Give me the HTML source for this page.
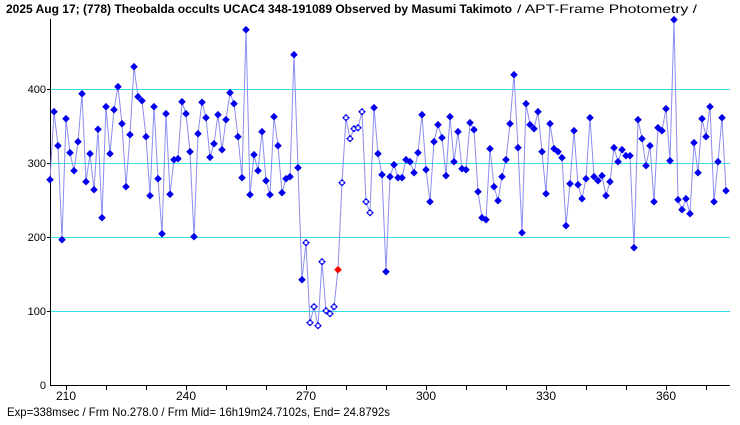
<!DOCTYPE html>
<html><head><meta charset="utf-8"><style>
html,body{margin:0;padding:0;background:#fff;width:740px;height:425px;overflow:hidden}
svg{display:block}
text{font-family:"Liberation Sans","Noto Sans CJK JP",sans-serif}
</style></head><body>
<svg id="s" width="740" height="425" xmlns="http://www.w3.org/2000/svg">
<rect width="740" height="425" fill="#fff"/>
<g stroke="#33e0e8" stroke-width="1">
<line x1="51" y1="89.5" x2="730" y2="89.5"/>
<line x1="51" y1="163.5" x2="730" y2="163.5"/>
<line x1="51" y1="237.5" x2="730" y2="237.5"/>
<line x1="51" y1="311.5" x2="730" y2="311.5"/>
</g>
<g stroke="#000" stroke-width="1">
<line x1="50.5" y1="19" x2="50.5" y2="385"/>
<line x1="50" y1="385.5" x2="730" y2="385.5"/>
<line x1="47" y1="89.5" x2="50" y2="89.5"/>
<line x1="47" y1="163.5" x2="50" y2="163.5"/>
<line x1="47" y1="237.5" x2="50" y2="237.5"/>
<line x1="47" y1="311.5" x2="50" y2="311.5"/>
<g id="ticks"></g>
</g>
<g font-size="11" fill="#000" text-anchor="end">
<text x="46" y="93">400</text><text x="46" y="167">300</text><text x="46" y="241">200</text><text x="46" y="315">100</text><text x="46" y="389">0</text>
</g>
<g font-size="12" fill="#000" text-anchor="middle">
<text x="66" y="400">210</text><text x="186" y="400">240</text><text x="306" y="400">270</text><text x="426" y="400">300</text><text x="546" y="400">330</text><text x="666" y="400">360</text>
</g>
<text x="6" y="13" font-size="12" font-weight="bold" fill="#000" textLength="506" lengthAdjust="spacingAndGlyphs">2025 Aug 17; (778) Theobalda occults UCAC4 348-191089 Observed by Masumi Takimoto</text>
<text x="517" y="13" font-size="12" fill="#000" textLength="180" lengthAdjust="spacingAndGlyphs">/ APT-Frame Photometry /</text>
<text x="7" y="416" font-size="12" fill="#000" textLength="383" lengthAdjust="spacingAndGlyphs">Exp=338msec / Frm No.278.0 / Frm Mid= 16h19m24.7102s,  End= 24.8792s</text>
<polyline id="ln" fill="none" stroke="#8c8cf0" stroke-width="1"/>
<g id="mk"></g>
</svg>
<script>
var ys=[179.7,111.7,145.7,239.7,118.7,152.7,170.7,141.7,93.7,181.7,153.7,189.7,129.3,217.7,106.7,153.7,109.7,86.7,123.7,186.7,134.7,66.7,96.7,100.7,136.7,195.7,106.7,178.7,233.7,113.7,194.3,159.7,158.7,101.7,113.7,151.7,236.7,133.7,102.3,117.7,157.3,143.7,114.7,
149.7,119.7,92.7,103.7,136.7,177.7,29.7,194.7,154.7,170.7,131.7,180.7,194.7,116.7,145.7,192.7,178.7,176.7,54.7,167.7,279.7,242.7,322.7,306.7,325.7,261.7,310.7,313.7,306.7,269.7,182.7,117.7,138.7,128.7,127.7,111.7,201.7,212.7,107.7,153.7,174.7,271.7,
176.7,164.7,177.7,177.7,159.7,161.7,172.7,152.7,114.7,169.7,201.7,141.7,124.7,137.7,175.7,116.7,161.7,131.7,168.7,169.7,122.7,129.7,191.7,217.7,219.7,148.7,186.7,200.7,176.7,159.7,123.7,74.7,147.7,232.7,103.7,124.7,128.7,111.7,151.7,193.7,123.7,148.7,151.7,
157.7,225.7,183.7,130.7,184.7,198.7,178.7,117.7,176.7,180.7,175.7,195.7,181.7,147.7,161.7,149.7,155.7,155.7,247.7,119.7,138.7,165.7,145.7,201.7,127.7,130.7,108.7,160.7,19.7,199.7,209.7,198.7,213.7,142.7,172.7,118.7,136.7,106.7,201.7,161.7,117.7,190.7];
var pts=[],mk="",tk="";
for(var i=0;i<ys.length;i++){var x=50+4*i,y=ys[i];pts.push(x+","+y);
 var d="M"+x+","+(y-3.8)+"L"+(x+3.8)+","+y+"L"+x+","+(y+3.8)+"L"+(x-3.8)+","+y+"Z";
 if(x==338){mk+='<path d="'+d+'" fill="#f00"/>';}
 else if(x>=306&&x<=370){mk+='<path d="'+d+'" fill="#0000ee"/><rect x="'+(x-1.5)+'" y="'+(y-1.5)+'" width="3" height="3" fill="#fff"/>';}
 else mk+='<path d="'+d+'" fill="#0000ee"/>';}
document.getElementById("ln").setAttribute("points",pts.join(" "));
document.getElementById("mk").innerHTML=mk;
for(var f=210;f<=370;f+=10){var tx=66+4*(f-210)+0.5;tk+='<line x1="'+tx+'" y1="386" x2="'+tx+'" y2="390"/>';}
document.getElementById("ticks").innerHTML=tk;
</script>
</body></html>
